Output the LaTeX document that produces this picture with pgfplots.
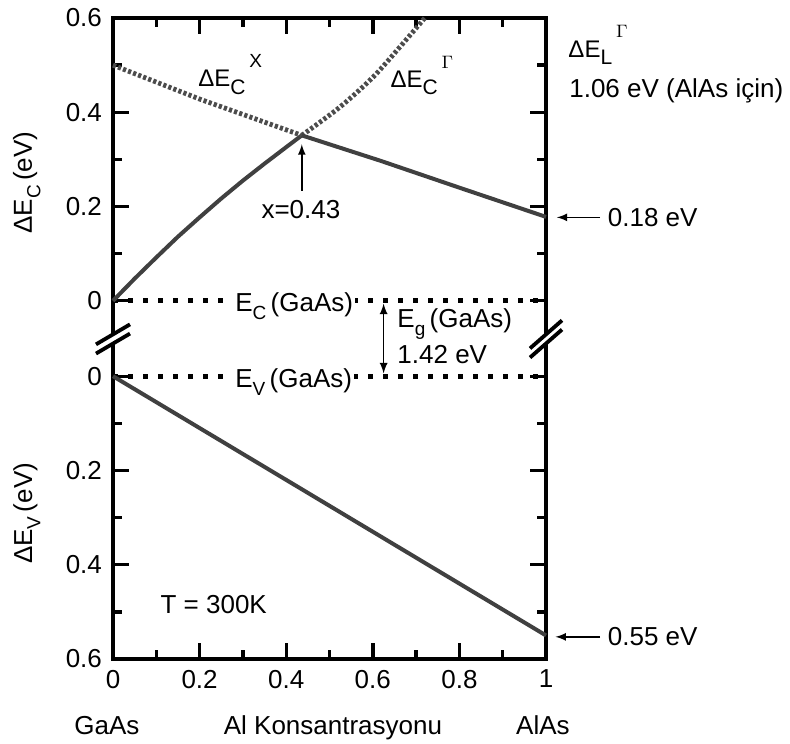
\documentclass[border=0pt]{standalone}
\usepackage{pgfplots}
\pgfplotsset{compat=1.18}
\usepackage{fontspec}
\setmainfont{Liberation Sans}
\newcommand{\sub}[2][9.5]{\raisebox{-0.32em}{\fontsize{#1}{10}\selectfont #2}}
\newcommand{\sups}[1]{\raisebox{0.8em}{\fontsize{9.5}{10}\selectfont #1}}
\begin{document}
\begin{tikzpicture}[font=\fontsize{13}{15.6}\selectfont]
\begin{axis}[
  scale only axis, width=216.5pt, height=320.5pt,
  xmin=0, xmax=1, ymin=-0.76, ymax=0.6,
  clip=false,
  axis line style={line width=1.7pt},
  every tick/.style={line width=1.7pt, black},
  major tick length=8pt, minor tick length=4.5pt,
  tick align=inside,
  /pgf/number format/assume math mode=true,
  ticklabel style={font=\fontsize{13}{15.6}\selectfont},
  xtick={0,0.2,0.4,0.6,0.8,1}, xticklabels={0,0.2,0.4,0.6,0.8,1},
  minor xtick={0.1,0.3,0.5,0.7,0.9},
  ytick={-0.76,-0.56,-0.36,-0.16,0,0.2,0.4,0.6},
  yticklabels={0.6,0.4,0.2,0,0,0.2,0.4,0.6},
  minor ytick={-0.66,-0.46,-0.26,0.1,0.3,0.5},
  yticklabel style={xshift=-2pt},
  xticklabel style={yshift=-2pt},
]
% horizontal dotted band edges
\addplot[black, line width=2.3pt, dash pattern=on 2.4pt off 5.1pt] coordinates {(0,0) (1,0)};
\addplot[black, line width=2.3pt, dash pattern=on 2.4pt off 5.1pt] coordinates {(0,-0.16) (1,-0.16)};
% Gamma valley, solid part
\addplot[color=black!75, line width=2pt, line join=round] coordinates {
(0,0) (0.05,0.047) (0.1,0.092) (0.15,0.136) (0.2,0.177) (0.25,0.217) (0.3,0.255) (0.35,0.291) (0.4,0.326) (0.436,0.351)};
% Gamma valley, dotted continuation
\addplot[color=black!70, line width=2.4pt, dash pattern=on 1.6pt off 1.1pt, smooth] coordinates {
(0.436,0.351) (0.524,0.411) (0.601,0.475) (0.663,0.539) (0.72,0.6)};
% X valley, dotted part
\addplot[color=black!70, line width=2.4pt, dash pattern=on 1.6pt off 1.1pt] coordinates {
(0,0.5) (0.2,0.428) (0.436,0.351)};
% X valley, solid part
\addplot[color=black!75, line width=2pt] coordinates {
(0.436,0.351) (0.618,0.297) (0.8,0.24) (1,0.178)};
% valence band offset
\addplot[color=black!75, line width=2pt] coordinates {(0,-0.16) (0.5,-0.435) (1,-0.71)};

% labels on lines
\node[anchor=base west, fill=white, inner sep=1pt] at (axis cs:0.277,-0.023) {E\sub{C}\,(GaAs)};
\node[anchor=base west, fill=white, inner sep=1pt] at (axis cs:0.277,-0.183) {E\sub{V}\,(GaAs)};
\draw[line width=0.8pt, <->, >=latex] (axis cs:0.625,-0.006) -- (axis cs:0.625,-0.154);
\node[anchor=base west, inner sep=0pt] at (axis cs:0.656,-0.057) {E\sub{g}\,(GaAs)};
\node[anchor=base west, inner sep=0pt] at (axis cs:0.656,-0.134) {1.42 eV};

% curve labels
\node[anchor=base west, inner sep=0pt, font=\fontsize{12}{14}\selectfont] at (axis cs:0.196,0.455) {ΔE\sub[10.5]{C}\hspace{2pt}\sups{X}};
\node[anchor=base west, inner sep=0pt, font=\fontsize{12}{14}\selectfont] at (axis cs:0.640,0.453) {ΔE\sub[10.5]{C}\hspace{2pt}\sups{$\Gamma$}};
\node[anchor=base west, inner sep=0pt, font=\fontsize{12}{14}\selectfont] at (axis cs:1.051,0.517) {ΔE\sub[10.5]{L}\hspace{2pt}\sups{$\Gamma$}};
\node[anchor=base west, inner sep=0pt] at (axis cs:1.053,0.432) {1.06 eV (AlAs için)};

% crossing point
\draw[line width=0.8pt, ->, >=latex] (axis cs:0.436,0.234) -- (axis cs:0.436,0.332);
\node[anchor=base, inner sep=0pt] at (axis cs:0.434,0.174) {x=0.43};

% end values
\draw[line width=0.8pt, ->, >=latex] (axis cs:1.125,0.177) -- (axis cs:1.025,0.177);
\node[anchor=west, inner sep=0pt] at (axis cs:1.142,0.177) {0.18 eV};
\draw[line width=0.8pt, ->, >=latex] (axis cs:1.125,-0.713) -- (axis cs:1.022,-0.713);
\node[anchor=west, inner sep=0pt] at (axis cs:1.142,-0.713) {0.55 eV};

\node[anchor=base west, inner sep=0pt] at (axis cs:0.109,-0.664) {T = 300K};

% x labels
\node[anchor=base, inner sep=0pt] at (axis cs:-0.014,-0.921) {GaAs};
\node[anchor=base, inner sep=0pt] at (axis cs:0.508,-0.921) {Al Konsantrasyonu};
\node[anchor=base, inner sep=0pt] at (axis cs:0.993,-0.921) {AlAs};

% y labels
\node[rotate=90, inner sep=0pt] at (axis cs:-0.199,0.251) {ΔE\sub{C}\,(eV)};
\node[rotate=90, inner sep=0pt] at (axis cs:-0.199,-0.451) {ΔE\sub{V}\,(eV)};

% axis break marks (left)
\draw[white, line width=3pt] ([xshift=-8.5pt,yshift=-5pt]axis cs:0,-0.081) -- ([xshift=8.5pt,yshift=5pt]axis cs:0,-0.081);
\draw[black, line width=1.9pt] ([xshift=-8.5pt,yshift=-2.7pt]axis cs:0,-0.081) -- ([xshift=8.5pt,yshift=7.3pt]axis cs:0,-0.081);
\draw[black, line width=1.9pt] ([xshift=-8.5pt,yshift=-7.3pt]axis cs:0,-0.081) -- ([xshift=8.5pt,yshift=2.7pt]axis cs:0,-0.081);
% axis break marks (right)
\draw[white, line width=3pt] ([xshift=-8pt,yshift=-7pt]axis cs:1,-0.081) -- ([xshift=8pt,yshift=7pt]axis cs:1,-0.081);
\draw[black, line width=1.9pt] ([xshift=-8pt,yshift=-4.7pt]axis cs:1,-0.081) -- ([xshift=8pt,yshift=9.3pt]axis cs:1,-0.081);
\draw[black, line width=1.9pt] ([xshift=-8pt,yshift=-9.3pt]axis cs:1,-0.081) -- ([xshift=8pt,yshift=4.7pt]axis cs:1,-0.081);
\end{axis}
\path[use as bounding box] ([xshift=-56.5pt,yshift=-42pt]current axis.south west) rectangle ([xshift=122pt,yshift=9pt]current axis.north east);
\end{tikzpicture}
\end{document}
